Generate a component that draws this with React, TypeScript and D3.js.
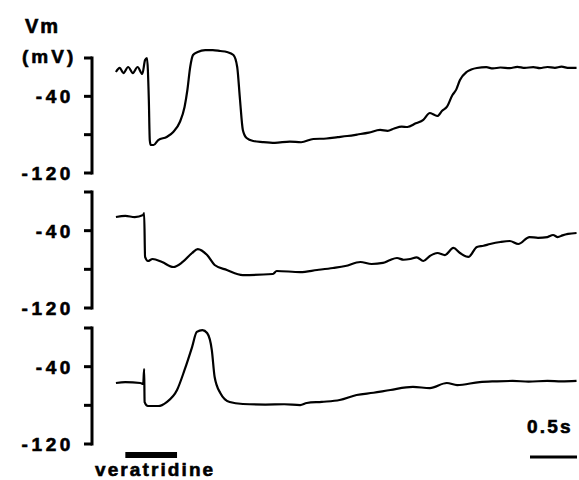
import React, { useEffect, useRef } from "react";
import * as d3 from "d3";

// time in seconds from start of recording, membrane potential in mV
const trace1Time = [0.01, 0.05, 0.09, 0.14, 0.19, 0.24, 0.29, 0.32, 0.34, 0.36, 0.37, 0.38, 0.41, 0.46, 0.55, 0.62, 0.69, 0.74, 0.77, 0.8, 0.83, 0.88, 0.96, 1.04, 1.12, 1.19, 1.26, 1.3, 1.33, 1.36, 1.4, 1.47, 1.57, 1.7, 1.86, 1.98, 2.11, 2.25, 2.37, 2.47, 2.58, 2.7, 2.82, 2.9, 2.97, 3.05, 3.11, 3.2, 3.28, 3.35, 3.39, 3.43, 3.48, 3.53, 3.59, 3.63, 3.67, 3.74, 3.79, 3.85, 3.95, 4.02, 4.1, 4.2, 4.28, 4.36, 4.45, 4.52, 4.6, 4.68, 4.75, 4.83, 4.91];
const trace1Mv = [-14.6, -10.4, -15.7, -9.4, -15.7, -9.4, -16.7, -2.1, 0, -43.8, -85.6, -90.8, -90.8, -85.6, -82.4, -77.2, -66.8, -51.1, -33.4, -9.4, 3.1, 6.3, 8.3, 8.3, 7.3, 6.3, 3.1, -9.4, -43.8, -75.1, -83.5, -86.6, -87.7, -88.5, -87.2, -87.9, -84.5, -84.0, -82.6, -81.4, -79.8, -77.9, -75.1, -76.0, -73.5, -71.6, -72.0, -68.2, -64.5, -57.4, -59.0, -60.5, -55.0, -51.1, -38.6, -33.0, -23.0, -14.6, -12.0, -10.4, -9.6, -10.9, -9.9, -10.6, -9.2, -10.3, -9.5, -10.5, -9.4, -10.2, -9.1, -10.4, -10.4];

const trace2Time = [0.01, 0.11, 0.21, 0.3, 0.31, 0.32, 0.35, 0.4, 0.5, 0.62, 0.72, 0.82, 0.88, 0.98, 1.06, 1.19, 1.36, 1.68, 1.72, 1.97, 2.15, 2.32, 2.45, 2.61, 2.73, 2.85, 2.92, 3.0, 3.07, 3.14, 3.21, 3.28, 3.35, 3.43, 3.51, 3.6, 3.67, 3.76, 3.85, 3.92, 3.99, 4.1, 4.2, 4.29, 4.41, 4.5, 4.6, 4.66, 4.71, 4.76, 4.82, 4.91];
const trace2Mv = [-25.9, -24.8, -25.9, -23.8, -21.7, -67.2, -71.4, -69.3, -72.4, -77.6, -72.4, -63.1, -59.0, -65.2, -75.5, -80.7, -85.9, -84.8, -81.7, -82.8, -80.7, -78.6, -76.6, -72.4, -74.5, -73.4, -70.6, -68.3, -70.1, -69.3, -67.6, -71.4, -66.2, -63.1, -65.2, -57.9, -63.1, -67.2, -56.9, -55.6, -53.8, -51.7, -50.7, -53.8, -46.6, -47.4, -46.6, -44.5, -46.6, -44.9, -43.4, -42.4];

const trace3Time = [0.01, 0.11, 0.27, 0.3, 0.31, 0.315, 0.35, 0.46, 0.55, 0.66, 0.74, 0.82, 0.87, 0.93, 0.98, 1.03, 1.06, 1.12, 1.22, 1.36, 1.6, 1.8, 1.97, 2.04, 2.2, 2.39, 2.57, 2.75, 2.93, 3.17, 3.35, 3.53, 3.64, 3.88, 4.05, 4.23, 4.4, 4.6, 4.75, 4.91];
const trace3Mv = [-56.9, -55.9, -56.9, -57.9, -42.4, -76.6, -80.7, -80.7, -76.6, -64.1, -43.4, -19.7, -4.1, -2.1, -5.2, -22.8, -50.7, -67.2, -76.6, -78.6, -79.2, -78.9, -79.7, -77.6, -76.4, -74.5, -69.3, -67.0, -64.1, -61.0, -62.1, -56.9, -59.0, -55.9, -55.2, -54.8, -55.4, -54.8, -55.3, -54.8];

const mvTicks = [0, -40, -80, -120];
const mvLabels = ["-40", "-120"];
const drugWindow = [0.11, 0.66];
const drugName = "veratridine";
const scaleBarSeconds = 0.5;

const traces = [
  { time: trace1Time, mv: trace1Mv, top: 58, bottom: 173 },
  { time: trace2Time, mv: trace2Mv, top: 192, bottom: 308 },
  { time: trace3Time, mv: trace3Mv, top: 328, bottom: 444 },
];

const FONT = "'Liberation Sans', Arial, Helvetica, sans-serif";

// bold label helper, a thin stroke makes it as heavy as the print
const boldText = (sel: any, size: number, spacing: number) =>
  sel
    .attr("font-family", FONT)
    .attr("font-weight", "bold")
    .attr("font-size", size)
    .attr("letter-spacing", spacing)
    .attr("stroke", "#000")
    .attr("stroke-width", 0.6)
    .attr("fill", "#000");

const App = () => {
  const svgRef = useRef<SVGSVGElement>(null);

  useEffect(() => {
    const svg = d3.select(svgRef.current);
    svg.selectAll("*").remove();

    const x = d3.scaleLinear().domain([0, 5]).range([115, 585]);
    const axisX = 92;

    traces.forEach((tr) => {
      const y = d3.scaleLinear().domain([-120, 0]).range([tr.bottom, tr.top]);
      const g = svg.append("g");

      // vertical axis bar
      g.append("line")
        .attr("x1", axisX).attr("x2", axisX)
        .attr("y1", y(0) - 1.5).attr("y2", y(-120) + 1.5)
        .attr("stroke", "#000").attr("stroke-width", 3);

      g.selectAll(".tick")
        .data(mvTicks)
        .join("line")
        .attr("x1", axisX - 8).attr("x2", axisX)
        .attr("y1", (d) => y(d)).attr("y2", (d) => y(d))
        .attr("stroke", "#000").attr("stroke-width", 3);

      g.selectAll(".lbl")
        .data(mvLabels)
        .join("text")
        .attr("x", 74)
        .attr("y", (d) => y(+d))
        .attr("dy", "0.36em")
        .attr("text-anchor", "end")
        .call(boldText, 19, 3.6)
        .text((d) => d);

      const line = d3.line<number>()
        .x((_, k) => x(tr.time[k]))
        .y((d) => y(d))
        .curve(d3.curveMonotoneX);

      g.append("path")
        .datum(tr.mv)
        .attr("d", line)
        .attr("fill", "none")
        .attr("stroke", "#000")
        .attr("stroke-width", 2.2)
        .attr("stroke-linejoin", "round");
    });

    // unit label
    svg.append("text")
      .attr("x", 25).attr("y", 33)
      .call(boldText, 20, 2)
      .text("Vm");
    svg.append("text")
      .attr("x", 22).attr("y", 63)
      .call(boldText, 19, 3)
      .text("(mV)");

    // drug application bar
    svg.append("rect")
      .attr("x", x(drugWindow[0]))
      .attr("y", 452)
      .attr("width", x(drugWindow[1]) - x(drugWindow[0]))
      .attr("height", 6)
      .attr("fill", "#000");
    svg.append("text")
      .attr("x", 95).attr("y", 476)
      .call(boldText, 19, 2.1)
      .text(drugName);

    // time scale bar
    const barEnd = 577;
    svg.append("line")
      .attr("x1", barEnd - (x(scaleBarSeconds) - x(0))).attr("x2", barEnd)
      .attr("y1", 457).attr("y2", 457)
      .attr("stroke", "#000").attr("stroke-width", 3);
    svg.append("text")
      .attr("x", 527).attr("y", 433)
      .call(boldText, 19, 2.2)
      .text(`${scaleBarSeconds}s`);
  }, []);

  return (
    <svg
      ref={svgRef}
      width={579}
      height={480}
      style={{ position: "absolute", left: 0, top: 0, background: "#fff" }}
    />
  );
};

export default App;
